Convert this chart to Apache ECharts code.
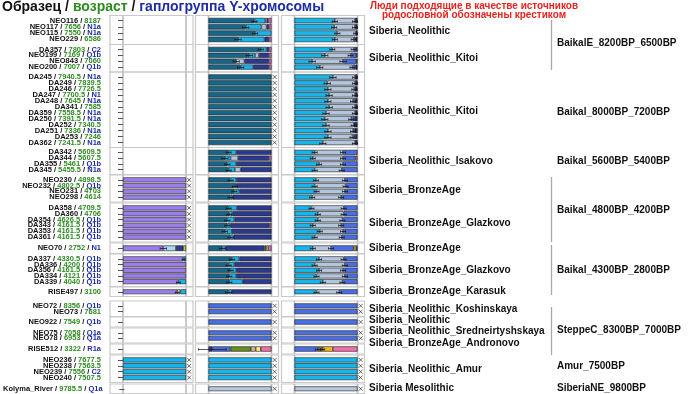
<!DOCTYPE html>
<html><head><meta charset="utf-8">
<script src="https://cdn.jsdelivr.net/npm/echarts@6/dist/echarts.min.js"></script>
<style>html,body{margin:0;padding:0;background:#fff}#c{width:700px;height:394px}</style>
</head><body><div id="c"></div>
<script>
// ---------------- DATA ----------------
const samples = ['NEO116','NEO117','NEO115','NEO229','DA357','NEO199','NEO843','NEO200',
 'DA245','DA249','DA246','DA247','DA248','DA341','DA359','DA250','DA252','DA251','DA253','DA362',
 'DA342','DA344','DA355','DA345','NEO230','NEO232','NEO231','NEO298',
 'DA358','DA360','DA354','DA343','DA353','DA361','NEO70',
 'DA337','DA336','DA356','DA334','DA339','RISE497',
 'NEO72','NEO73','NEO922','NEO75','NEO78','RISE512',
 'NEO236','NEO238','NEO239','NEO240','Kolyma_River'];
const ages = ['8187','7656','7550','6586','7803','7169','7060','7007',
 '7940.5','7839.5','7726.5','7700.5','7645','7585','7558.5','7391.5','7340.5','7336','7246','7241.5',
 '5609.5','5607.5','5461','5455.5','4898.5','4802.5','4703','4614',
 '4709.5','4706','4626.5','4161.5','4161.5','4161.5','2752',
 '4330.5','4200','4161.5','4121','4040','3100',
 '8356','7681','7549','7058','6953','3322',
 '7677.5','7563.5','7556','7507.5','9785.5'];
const haplogroups = ['','N1a','N1a','','C2','Q1b','','Q1b',
 'N1a','','','N1','N1a','','N1a','N1a','','N1a','','N1a',
 '','','Q1b','N1a','','Q1b','','',
 '','','Q1b','Q1b','Q1b','Q1b','N1',
 'Q1b','Q1b','Q1b','Q1b','Q1b','',
 'Q1b','','Q1b','Q1a','Q1a','R1a',
 '','','C2','','Q1a'];
const groupSizes = [4,4,12,4,4,6,1,5,1,2,1,2,1,4,1];
const groupNames = ['Siberia_Neolithic','Siberia_Neolithic_Kitoi','Siberia_Neolithic_Kitoi','Siberia_Neolithic_Isakovo',
 'Siberia_BronzeAge','Siberia_BronzeAge_Glazkovo','Siberia_BronzeAge','Siberia_BronzeAge_Glazkovo','Siberia_BronzeAge_Karasuk',
 'Siberia_Neolithic_Koshinskaya','Siberia_Neolithic','Siberia_Neolithic_Sredneirtyshskaya','Siberia_BronzeAge_Andronovo',
 'Siberia_Neolithic_Amur','Siberia Mesolithic'];
const regionNames = ['BaikalE_8200BP_6500BP','Baikal_8000BP_7200BP','Baikal_5600BP_5400BP','Baikal_4800BP_4200BP',
 'Baikal_4300BP_2800BP','SteppeC_8300BP_7000BP','Amur_7500BP','SiberiaNE_9800BP'];

// Panel 1 ancestry proportions (row order = samples)
const p1Purple = [0,0,0,0, 0,0,0,0, 0,0,0,0,0,0,0,0,0,0,0,0, 0,0,0,0, 1,1,1,1, 1,1,1,1,1,1, 0.64, 0.96,1,1,1,0.88, 0.86, 0,0,0,0,0,0, 0,0,0,0, 0];
const p1LightBlue = [0,0,0,0, 0,0,0,0, 0,0,0,0,0,0,0,0,0,0,0,0, 0,0,0,0, 0,0,0,0, 0,0,0,0,0,0, 0.20, 0,0,0,0,0, 0, 0,0,0,0,0,0, 0,0,0,0, 0];
const p1Navy = [0,0,0,0, 0,0,0,0, 0,0,0,0,0,0,0,0,0,0,0,0, 0,0,0,0, 0,0,0,0, 0,0,0,0,0,0, 0.12, 0,0,0,0,0, 0, 0,0,0,0,0,0, 0,0,0,0, 0];
const p1Yellow = [0,0,0,0, 0,0,0,0, 0,0,0,0,0,0,0,0,0,0,0,0, 0,0,0,0, 0,0,0,0, 0,0,0,0,0,0, 0.04, 0,0,0,0,0, 0, 0,0,0,0,0,0, 0,0,0,0, 0];
const p1Tan = [0,0,0,0, 0,0,0,0, 0,0,0,0,0,0,0,0,0,0,0,0, 0,0,0,0, 0,0,0,0, 0,0,0,0,0,0, 0, 0,0,0,0,0, 0.05, 0,0,0,0,0,0, 0,0,0,0, 0];
const p1Cyan = [0,0,0,0, 0,0,0,0, 0,0,0,0,0,0,0,0,0,0,0,0, 0,0,0,0, 0,0,0,0, 0,0,0,0,0,0, 0, 0.04,0,0,0,0.12, 0.09, 0,0,0,0,0,0, 1,1,1,1, 0];
const p1FirstErr = [0,0,0,0, 0,0,0,0, 0,0,0,0,0,0,0,0,0,0,0,0, 0,0,0,0, 0,0,0,0, 0,0,0,0,0,0, 0.05, 0.02,0,0,0,0.03, 0.03, 0,0,0,0,0,0, 0,0,0,0, 0];

// Panel 2
const p2Teal = [0.73,0.59,0.74,0.47, 0.83,0.65,0.44,0.51, 1,1,1,1,1,1,1,1,1,1,1,1, 0.32,0.26,0.30,0.32, 0.35,0.42,0.41,0.35, 0.32,0.33,0.30,0.30,0.26,0.35, 0.22, 0.37,0.32,0.35,0.33,0.33, 0.32, 0,0,0,0,0,0, 0,0,0,0, 0];
const p2Cyan = [0.17,0.25,0.26,0.42, 0.09,0.09,0,0.20, 0,0,0,0,0,0,0,0,0,0,0,0, 0.12,0.09,0.14,0.10, 0.09,0.02,0.08,0.03, 0.13,0.05,0.11,0.05,0.11,0.05, 0.05, 0.12,0.09,0.09,0.11,0.21, 0.05, 0,0,0,0,0,0, 1,1,1,1, 0];
const p2Gray = [0.03,0.08,0,0, 0,0.06,0.13,0, 0,0,0,0,0,0,0,0,0,0,0,0, 0,0.12,0,0.09, 0,0,0,0, 0,0,0,0,0,0, 0, 0,0,0,0,0, 0, 0,0,0,0,0,0, 0,0,0,0, 1];
const p2Navy = [0.02,0.04,0,0.07, 0.04,0.16,0.39,0.25, 0,0,0,0,0,0,0,0,0,0,0,0, 0.56,0.49,0.56,0.49, 0.56,0.56,0.51,0.62, 0.55,0.62,0.59,0.62,0.63,0.60, 0.62, 0.51,0.59,0.56,0.56,0.46, 0.63, 0,0,0,0,0,0.06, 0,0,0,0, 0];
const p2Royal = [0,0,0,0, 0,0,0,0, 0,0,0,0,0,0,0,0,0,0,0,0, 0,0,0,0, 0,0,0,0, 0,0,0,0,0,0, 0, 0,0,0,0,0, 0, 1,1,1,1,1,0.29, 0,0,0,0, 0];
const p2Olive = [0,0,0,0, 0,0,0,0, 0,0,0,0,0,0,0,0,0,0,0,0, 0,0,0,0, 0,0,0,0, 0,0,0,0,0,0, 0.03, 0,0,0,0,0, 0, 0,0,0,0,0,0.32, 0,0,0,0, 0];
const p2Tan = [0,0,0,0, 0,0,0,0, 0,0,0,0,0,0,0,0,0,0,0,0, 0,0,0,0, 0,0,0,0, 0,0,0,0,0,0, 0, 0,0,0,0,0, 0, 0,0,0,0,0,0.08, 0,0,0,0, 0];
const p2Yellow = [0,0,0,0, 0,0,0,0, 0,0,0,0,0,0,0,0,0,0,0,0, 0,0,0,0, 0,0,0,0, 0,0,0,0,0,0, 0.03, 0,0,0,0,0, 0, 0,0,0,0,0,0.08, 0,0,0,0, 0];
const p2Orchid = [0.05,0.04,0,0.04, 0.04,0.04,0.04,0.04, 0,0,0,0,0,0,0,0,0,0,0,0, 0,0.04,0,0, 0,0,0,0, 0,0,0,0.03,0,0, 0.05, 0,0,0,0,0, 0, 0,0,0,0,0,0, 0,0,0,0, 0];
const p2Pink = [0,0,0,0, 0,0,0,0, 0,0,0,0,0,0,0,0,0,0,0,0, 0,0,0,0, 0,0,0,0, 0,0,0,0,0,0, 0, 0,0,0,0,0, 0, 0,0,0,0,0,0.17, 0,0,0,0, 0];
const p2FirstErr = [0.04,0.05,0.04,0.05, 0.04,0.05,0.05,0.05, 0,0,0,0,0,0,0,0,0,0,0,0, 0.04,0.05,0.04,0.04, 0.04,0.04,0.04,0.04, 0.04,0.04,0.04,0.04,0.04,0.04, 0.05, 0.04,0.04,0.04,0.04,0.04, 0.05, 0,0,0,0,0,0.22, 0,0,0,0, 0];

// Panel 3
const p3Cyan = [0.64,0.63,0.68,0.64, 0.60,0.48,0.28,0.40, 0.61,0.52,0.53,0.55,0.53,0.55,0.50,0.48,0.50,0.53,0.53,0.45, 0.32,0.29,0.39,0.32, 0.34,0.32,0.35,0.28, 0.27,0.37,0.37,0.29,0.40,0.32, 0.29, 0.39,0.32,0.39,0.35,0.45, 0.35, 0,0,0,0,0,0, 1,1,1,1, 0];
const p3Gray = [0.32,0.33,0.29,0.30, 0.34,0.41,0.49,0.52, 0.35,0.44,0.42,0.41,0.40,0.41,0.46,0.42,0.44,0.40,0.39,0.51, 0.45,0.48,0.38,0.43, 0.46,0.49,0.45,0.46, 0.51,0.41,0.39,0.45,0.37,0.43, 0.29, 0.39,0.48,0.38,0.45,0.31, 0.36, 0,0,0,0,0,0, 0,0,0,0, 1];
const p3Royal = [0,0,0,0.03, 0.04,0.09,0.21,0.05, 0,0,0,0,0.03,0,0,0.05,0,0.02,0.04,0, 0.23,0.20,0.23,0.25, 0.20,0.19,0.20,0.26, 0.22,0.22,0.24,0.26,0.23,0.25, 0.36, 0.22,0.20,0.23,0.20,0.24, 0.29, 1,1,1,1,1,0.37, 0,0,0,0, 0];
const p3Brown = [0,0,0,0, 0,0,0,0, 0,0,0,0,0,0,0,0,0,0,0,0, 0,0,0,0, 0,0,0,0, 0,0,0,0,0,0, 0, 0,0,0,0,0, 0, 0,0,0,0,0,0.08, 0,0,0,0, 0];
const p3Gold = [0,0,0,0, 0,0,0,0, 0,0,0,0,0,0,0,0,0,0,0,0, 0,0,0,0, 0,0,0,0, 0,0,0,0,0,0, 0.04, 0,0,0,0,0, 0, 0,0,0,0,0,0.16, 0,0,0,0, 0];
const p3Navy = [0.04,0.04,0.03,0.03, 0.02,0.02,0.02,0.03, 0.04,0.04,0.05,0.04,0.04,0.04,0.04,0.05,0.06,0.05,0.04,0.04, 0,0,0,0, 0,0,0,0, 0,0,0,0,0,0, 0.02, 0,0,0,0,0, 0, 0,0,0,0,0,0, 0,0,0,0, 0];
const p3Pink = [0,0,0,0, 0,0,0,0, 0,0,0,0,0,0,0,0,0,0,0,0, 0,0.03,0,0, 0,0,0,0, 0,0,0,0,0,0, 0, 0,0,0,0,0, 0, 0,0,0,0,0,0.39, 0,0,0,0, 0];
const p3FirstErr = [0.04,0.04,0.04,0.04, 0.04,0.05,0.05,0.05, 0.05,0.05,0.05,0.05,0.05,0.05,0.05,0.05,0.05,0.05,0.05,0.05, 0.04,0.04,0.04,0.04, 0.04,0.04,0.04,0.04, 0.04,0.04,0.04,0.04,0.04,0.04, 0.04, 0.04,0.04,0.04,0.04,0.04, 0.04, 0,0,0,0,0,0.04, 0,0,0,0, 0];
const p3SecondErr = [0.04,0.04,0.03,0.04, 0.04,0.04,0.05,0.04, 0.04,0.04,0.04,0.04,0.04,0.04,0.04,0.04,0.04,0.04,0.04,0.04, 0.04,0.04,0.04,0.04, 0.04,0.04,0.04,0.04, 0.04,0.04,0.04,0.04,0.04,0.04, 0.04, 0.04,0.04,0.04,0.04,0.04, 0.04, 0,0,0,0,0,0.03, 0,0,0,0, 0];

// Samples marked with a cross (fit as ancestry sources) in each panel
const p1Crosses = ['NEO230','NEO232','NEO231','NEO298','DA358','DA360','DA354','DA343','DA353','DA361','NEO236','NEO238','NEO239','NEO240'];
const p2Crosses = ['DA245','DA249','DA246','DA247','DA248','DA341','DA359','DA250','DA252','DA251','DA253','DA362',
 'NEO72','NEO73','NEO922','NEO75','NEO78','NEO236','NEO238','NEO239','NEO240','Kolyma_River'];
const p3Crosses = ['NEO72','NEO73','NEO922','NEO75','NEO78','NEO236','NEO238','NEO239','NEO240','Kolyma_River'];

// ---------------- LAYOUT (pixels) ----------------
const boxTop =    [15.5,44.5,72,147.5,175,203,243,254,287,301,317,328,344,355,384];
const boxBottom = [44.5,72,147.5,174.5,202,242,253.5,286.5,296.5,316.5,327,343,354,382.5,393.5];
const PAD = 2;
const panelLeft = [110, 195.5, 281.5];
const BOXW = 83, BAROFF = 13, BARW = 63;
const XMIN = -BAROFF / BARW, XMAX = (BOXW - BAROFF) / BARW;
const groupLabelY = [31,58,111,161,190,223,248,270,291,309,320,331,343,369,388];
const regionLabelY = [43,112,161,210,270,330,366,388];
const regionLines = [[20,70],[177,242],[245,295],[307,355]];
const FONT = "'Liberation Sans', Arial, Helvetica, sans-serif";

const panels = [
 {comps:[[p1Purple,'#9C7EEA'],[p1LightBlue,'#A8D6F3'],[p1Navy,'#2B3A8F'],[p1Yellow,'#E9E23C'],[p1Tan,'#D9CBA3'],[p1Cyan,'#17B5EB']], crosses:p1Crosses, errs:[p1FirstErr]},
 {comps:[[p2Teal,'#15688B'],[p2Cyan,'#17B5EB'],[p2Gray,'#B4C6DE'],[p2Navy,'#2B3A8F'],[p2Royal,'#4A6FE3'],[p2Olive,'#6B8E23'],[p2Tan,'#CDB88F'],[p2Yellow,'#FFF07A'],[p2Orchid,'#DC6BCF'],[p2Pink,'#F270A9']], crosses:p2Crosses, errs:[p2FirstErr]},
 {comps:[[p3Cyan,'#17B5EB'],[p3Gray,'#B4C6DE'],[p3Royal,'#4A6FE3'],[p3Brown,'#8B6B45'],[p3Gold,'#F5B81C'],[p3Navy,'#1F2A6B'],[p3Pink,'#F270A9']], crosses:p3Crosses, errs:[p3FirstErr, p3SecondErr]}
];

// ---------------- BUILD ----------------
const groupStart = []; { let s = 0; groupSizes.forEach(n => { groupStart.push(s); s += n; }); }
const grids = [], xAxes = [], yAxes = [], series = [], graphics = [];

function errRender(params, api) {
  const v = api.value(0), e = api.value(2), cat = api.value(1);
  const c = api.coord([v, cat]);
  const l = api.coord([v - e, cat])[0], r = api.coord([v + e, cat])[0];
  const y = Math.round(c[1]) + 0.5;
  const st = {stroke: '#111', lineWidth: 0.7};
  return {type: 'group', children: [
    {type: 'line', shape: {x1: l, y1: y, x2: r, y2: y}, style: st},
    {type: 'line', shape: {x1: l, y1: y - 1.2, x2: l, y2: y + 1.2}, style: st},
    {type: 'line', shape: {x1: r, y1: y - 1.2, x2: r, y2: y + 1.2}, style: st}
  ]};
}

panels.forEach((panel, p) => {
  groupSizes.forEach((n, g) => {
    const gi = grids.length;
    const t = boxTop[g], b = boxBottom[g];
    grids.push({left: panelLeft[p], top: t + PAD, width: BOXW, height: b - t - 2 * PAD});
    xAxes.push({gridIndex: gi, type: 'value', min: XMIN, max: XMAX, show: false});
    const st = groupStart[g];
    const names = samples.slice(st, st + n);
    yAxes.push({
      gridIndex: gi, type: 'category', data: names, inverse: true,
      axisLine: {show: false}, splitLine: {show: false},
      axisTick: {show: p === 0, length: 5, alignWithLabel: true, interval: 0, lineStyle: {color: '#555', width: 1}},
      axisLabel: {
        show: p === 0, interval: 0, margin: 9, fontFamily: FONT, fontSize: 7.5, fontWeight: 'bold', color: '#111',
        formatter: (v, i) => {
          const k = st + i;
          let s = '{n|' + samples[k] + '} / {a|' + ages[k] + '}';
          if (haplogroups[k]) s += ' / {h|' + haplogroups[k] + '}';
          return s;
        },
        rich: {
          n: {fontFamily: FONT, fontSize: 7.5, fontWeight: 'bold', color: '#111'},
          a: {fontFamily: FONT, fontSize: 7.5, fontWeight: 'bold', color: '#2E8B22'},
          h: {fontFamily: FONT, fontSize: 7.5, fontWeight: 'bold', color: '#1E2DA5'}
        }
      }
    });
    panel.comps.forEach(([arr, color]) => {
      const d = arr.slice(st, st + n);
      if (!d.some(v => v > 0)) return;
      series.push({
        type: 'bar', xAxisIndex: gi, yAxisIndex: gi, stack: 's' + gi, silent: true,
        data: d.map(v => v > 0 ? v : null), barWidth: '88%',
        itemStyle: {color: color, borderColor: '#1a1a1a', borderWidth: 0.6}
      });
    });
    const errData = [];
    names.forEach((nm, i) => {
      const k = st + i;
      let cum = 0, found = 0;
      for (const [arr] of panel.comps) {
        if (arr[k] > 0) {
          cum += arr[k];
          if (cum < 0.999 && panel.errs[found] && panel.errs[found][k] > 0) errData.push([cum, nm, panel.errs[found][k]]);
          found++;
          if (found >= panel.errs.length) break;
        }
      }
    });
    if (errData.length) series.push({
      type: 'custom', xAxisIndex: gi, yAxisIndex: gi, silent: true, z: 4,
      encode: {x: 0, y: 1}, renderItem: errRender, data: errData
    });
    const cr = [];
    names.forEach(nm => { if (panel.crosses.includes(nm)) cr.push([1.05, nm]); });
    if (cr.length) series.push({
      type: 'scatter', xAxisIndex: gi, yAxisIndex: gi, silent: true, data: cr,
      symbol: 'path://M0,0L10,10M10,0L0,10', symbolSize: 4,
      itemStyle: {color: 'transparent', borderColor: '#333', borderWidth: 0.9}, z: 5
    });
    graphics.push({type: 'rect', silent: true, z: -10,
      shape: {x: panelLeft[p], y: t, width: BOXW, height: b - t},
      style: {fill: 'none', stroke: '#c9c9c9', lineWidth: 1.2}});
    [BAROFF, BAROFF + BARW].forEach(off => graphics.push({type: 'line', silent: true, z: -10,
      shape: {x1: panelLeft[p] + off, y1: t, x2: panelLeft[p] + off, y2: b},
      style: {stroke: '#bdbdbd', lineWidth: 1.6}}));
  });
});

const txt = (x, y, text, size, color, align) => ({type: 'text', silent: true, x: x, y: y,
  style: {text: text, fontFamily: FONT, fontSize: size, fontWeight: 'bold', fill: color,
    align: align || 'left', verticalAlign: 'middle', textAlign: align || 'left', textVerticalAlign: 'middle'}});

groupNames.forEach((nm, g) => graphics.push(txt(369, groupLabelY[g], nm, 10, '#111')));
regionNames.forEach((nm, r) => graphics.push(txt(557, regionLabelY[r], nm, 10, '#111')));
regionLines.forEach(([y1, y2]) => graphics.push({type: 'line', silent: true,
  shape: {x1: 551.5, y1: y1, x2: 551.5, y2: y2}, style: {stroke: '#a8a8a8', lineWidth: 1.3}}));
graphics.push(txt(474, 6, 'Люди подходящие в качестве источников', 10, '#E8231F', 'center'));
graphics.push(txt(474, 15.5, 'родословной обозначены крестиком', 10, '#E8231F', 'center'));

const chart = echarts.init(document.getElementById('c'));
chart.setOption({
  animation: false,
  title: {
    text: '{k|Образец} / {g|возраст} / {b|гаплогруппа Y-хромосомы}', left: 2, top: 0, padding: 0,
    textStyle: {fontFamily: FONT, fontSize: 14, fontWeight: 'bold', color: '#111',
      rich: {
        k: {fontFamily: FONT, fontSize: 14, fontWeight: 'bold', color: '#111'},
        g: {fontFamily: FONT, fontSize: 14, fontWeight: 'bold', color: '#2E8B22'},
        b: {fontFamily: FONT, fontSize: 14, fontWeight: 'bold', color: '#1E2DA5'}
      }}
  },
  grid: grids, xAxis: xAxes, yAxis: yAxes, series: series, graphic: graphics
});
</script>
</body></html>
